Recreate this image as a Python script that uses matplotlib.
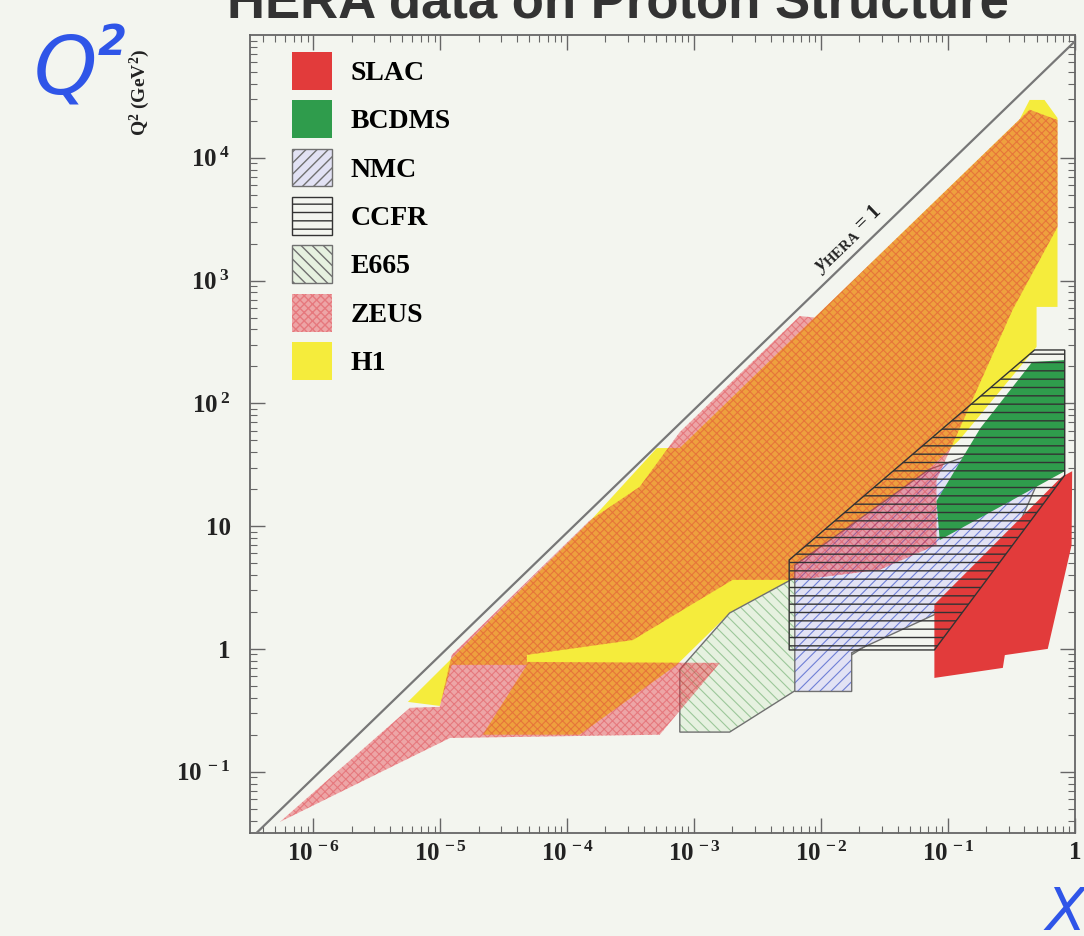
import matplotlib.pyplot as plt
import numpy as np
from matplotlib.patches import Polygon, Patch
from matplotlib.ticker import FixedLocator, FixedFormatter, LogLocator, NullFormatter

plt.rcParams['font.family'] = ['Liberation Serif', 'DejaVu Serif']
plt.rcParams['font.weight'] = 'bold'
plt.rcParams['mathtext.fontset'] = 'custom'
plt.rcParams['mathtext.rm'] = 'Liberation Serif:bold'
plt.rcParams['mathtext.it'] = 'Liberation Serif:italic:bold'
plt.rcParams['mathtext.bf'] = 'Liberation Serif:bold'

# kinematic coverage of each experiment, outline vertices in (x, Q^2 [GeV^2])
slac_x = [0.078, 0.078, 0.78, 0.95, 0.94, 0.61, 0.28, 0.27]
slac_q2 = [0.58, 2.3, 25, 28, 7.0, 1.0, 0.89, 0.70]

bcdms_x = [0.086, 0.081, 0.18, 0.46, 0.83, 0.83]
bcdms_q2 = [7.7, 16, 63, 217, 225, 28]

nmc_x = [0.0062, 0.0174, 0.0174, 0.078, 0.32, 0.52, 0.25, 0.071, 0.0062]
nmc_q2 = [0.45, 0.45, 0.93, 1.9, 7.7, 24, 46, 29, 4.8]

ccfr_x = [0.0056, 0.078, 0.83, 0.83, 0.48, 0.0056]
ccfr_q2 = [0.98, 0.98, 26, 272, 272, 5.3]

e665_x = [7.7e-4, 1.9e-3, 0.020, 0.078, 0.078, 0.0068, 1.9e-3, 7.7e-4]
e665_q2 = [0.21, 0.21, 0.98, 2.5, 9.3, 4.0, 1.96, 0.68]

zeus_x = [5.45e-7, 5.75e-6, 9.9e-6, 1.23e-5, 1.50e-4, 3.72e-4, 7.69e-4, 6.78e-3,
          8.89e-3, 0.439, 0.728, 0.728, 0.322, 0.140, 0.0811, 0.0811, 0.0289,
          6.78e-3, 2.01e-3, 3.28e-4, 4.80e-5, 4.80e-5, 1.59e-3, 5.35e-4, 1.19e-5]
zeus_q2 = [0.039, 0.331, 0.337, 0.893, 11.1, 20.9, 58.3, 514,
           500, 24660, 20300, 2730, 577, 83.6, 23.8, 7.03, 4.40,
           3.65, 3.65, 1.18, 0.893, 0.783, 0.769, 0.200, 0.188]

h1_x = [5.55e-6, 1.50e-4, 5.07e-4, 7.69e-4, 0.366, 0.439, 0.575, 0.728, 0.728,
        0.498, 0.498, 0.123, 0.0167, 6.78e-3, 1.90e-3, 7.28e-4, 1.25e-4,
        2.16e-5, 4.80e-5, 1.23e-5, 9.9e-6]
h1_q2 = [0.370, 10.9, 43.2, 43.3, 20560, 29580, 29580, 21090, 610,
         610, 288, 50.4, 7.03, 3.44, 1.96, 0.741, 0.200,
         0.200, 0.741, 0.741, 0.343]

# centre-of-mass energy squared at HERA, y = 1 line is Q^2 = s x
s_hera = 8.9e4

experiments = ['SLAC', 'BCDMS', 'NMC', 'CCFR', 'E665', 'ZEUS', 'H1']

xtick_vals = [1e-6, 1e-5, 1e-4, 1e-3, 1e-2, 1e-1, 1]
xtick_text = [r'$10^{\,-6}$', r'$10^{\,-5}$', r'$10^{\,-4}$', r'$10^{\,-3}$',
              r'$10^{\,-2}$', r'$10^{\,-1}$', '1']
ytick_vals = [1e-1, 1, 10, 1e2, 1e3, 1e4]
ytick_text = [r'$10^{\;-1}$', '1', '10', r'$10^{\;2}$', r'$10^{\;3}$', r'$10^{\;4}$']

bg = '#f3f5ef'
styles = {
    'SLAC': dict(facecolor='#e23b3b', edgecolor='none', lw=0),
    'BCDMS': dict(facecolor='#2f9c4c', edgecolor='none', lw=0),
    'NMC': dict(facecolor='#e2e2f4', edgecolor='#6f7fd6', hatch='///', lw=0),
    'CCFR': dict(facecolor='none', edgecolor='#333333', hatch='--', lw=0),
    'E665': dict(facecolor='#e6f1e0', edgecolor='#9cc79a', hatch='\\\\\\', lw=0),
    'ZEUS': dict(facecolor=(0.90, 0.22, 0.26, 0.42), edgecolor=(0.85, 0.15, 0.2, 0.35),
                 hatch='xxxx', lw=0),
    'H1': dict(facecolor='#f5ec3c', edgecolor='none', lw=0),
}


def add_region(ax, xs, qs, name, outline=None, z=1):
    pts = np.column_stack([xs, qs])
    ax.add_patch(Polygon(pts, closed=True, zorder=z, **styles[name]))
    if outline:
        ax.add_patch(Polygon(pts, closed=True, fill=False, edgecolor=outline,
                             lw=1.0, zorder=z + 0.1))


fig = plt.figure(figsize=(10.84, 9.36), dpi=100, facecolor=bg)
ax = fig.add_axes([0.2306, 0.110, 0.7611, 0.8526], facecolor=bg)
ax.set_xscale('log')
ax.set_yscale('log')
ax.set_xlim(10 ** -6.5, 1)
ax.set_ylim(10 ** -1.5, 1e5)

plt.rcParams['hatch.linewidth'] = 0.8
add_region(ax, h1_x, h1_q2, 'H1', z=1)
add_region(ax, e665_x, e665_q2, 'E665', outline='#707070', z=2)
add_region(ax, nmc_x, nmc_q2, 'NMC', outline='#707070', z=3)
add_region(ax, zeus_x, zeus_q2, 'ZEUS', z=4)
add_region(ax, bcdms_x, bcdms_q2, 'BCDMS', z=5)
add_region(ax, slac_x, slac_q2, 'SLAC', z=6)
plt.rcParams['hatch.linewidth'] = 1.0
add_region(ax, ccfr_x, ccfr_q2, 'CCFR', outline='#333333', z=7)

# kinematic limit y = 1
xl = np.array([10 ** -6.5, 1])
ax.plot(xl, s_hera * xl, color='#777777', lw=1.6, zorder=8)
xt = 0.0185
ax.text(xt, s_hera * xt * 1.12, r'$y_{\mathrm{HERA}}$ = 1', rotation=44,
        rotation_mode='anchor', ha='center', va='bottom', fontsize=15,
        color='#222222', zorder=9)

ax.xaxis.set_major_locator(FixedLocator(xtick_vals))
ax.xaxis.set_major_formatter(FixedFormatter(xtick_text))
ax.yaxis.set_major_locator(FixedLocator(ytick_vals))
ax.yaxis.set_major_formatter(FixedFormatter(ytick_text))
for axis in (ax.xaxis, ax.yaxis):
    axis.set_minor_locator(LogLocator(base=10, subs=np.arange(2, 10), numticks=20))
    axis.set_minor_formatter(NullFormatter())
ax.tick_params(which='both', direction='in', top=True, right=True, colors='#666666',
               labelcolor='#222222')
ax.tick_params(which='major', length=11, width=1.0, labelsize=18)
ax.tick_params(which='minor', length=5, width=0.8)
ax.tick_params(axis='x', which='major', pad=6)
ax.tick_params(axis='y', which='major', pad=14)
for sp in ax.spines.values():
    sp.set_color('#666666')
    sp.set_linewidth(1.3)

handles = [Patch(**styles[n]) for n in experiments]
for h, n in zip(handles, experiments):
    if n in ('NMC', 'CCFR', 'E665'):
        h.set_linewidth(1.0)
        h.set_edgecolor('#707070' if n != 'CCFR' else '#333333')
ax.legend(handles, experiments, loc='upper left', bbox_to_anchor=(0.051, 0.979),
          frameon=False, prop={'family': 'Liberation Serif', 'weight': 'bold', 'size': 20},
          handlelength=1.45, handleheight=1.72, handletextpad=0.65,
          labelspacing=0.38, borderpad=0, borderaxespad=0)

fig.text(140 / 1084, 1 - 92 / 936, r'Q$^2$ (GeV$^2$)', rotation=90, ha='center',
         va='center', fontsize=14, color='#222222')

fig.text(618 / 1084, 1 - 18 / 936, 'HERA data on Proton Structure', ha='center',
         va='baseline', fontsize=38, fontweight='bold', color='#333333',
         family=['Liberation Sans', 'DejaVu Sans'])

# hand-written axis names
pen = '#2f55e8'
fig.text(65 / 1084, 1 - 72 / 936, 'Q', ha='center', va='center', fontsize=58,
         color=pen, style='italic', fontweight='normal', family=['DejaVu Sans'])
fig.text(112 / 1084, 1 - 43 / 936, '2', ha='center', va='center', fontsize=30,
         color=pen, style='italic', fontweight='bold', family=['DejaVu Sans'])
fig.text(1066 / 1084, 1 - 914 / 936, 'X', ha='center', va='center', fontsize=42,
         color=pen, style='italic', fontweight='normal', family=['DejaVu Sans'])

fig.savefig('out.png', dpi=100, facecolor=bg)
